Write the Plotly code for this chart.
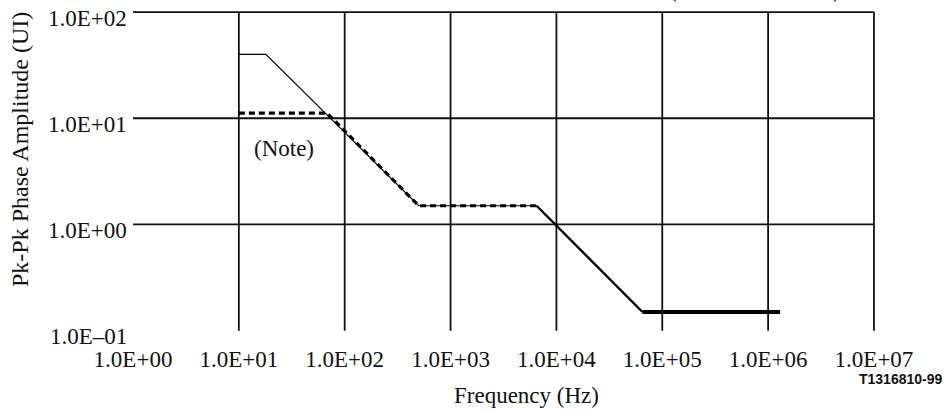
import math
import plotly.graph_objects as go

# ---- data ----
x_decades = [1, 10, 100, 1000, 10000, 100000, 1000000, 10000000]
x_labels = ["1.0E+00", "1.0E+01", "1.0E+02", "1.0E+03", "1.0E+04", "1.0E+05", "1.0E+06", "1.0E+07"]
y_decades = [0.1, 1, 10, 100]
y_labels = ["1.0E–01", "1.0E+00", "1.0E+01", "1.0E+02"]

# thin solid mask (low-frequency part)
thin_freq = [10, 18, 500, 6500]
thin_amp = [40, 40, 1.5, 1.5]
# dashed mask (Note)
note_freq = [10, 68, 500, 6500]
note_amp = [11.2, 11.2, 1.5, 1.5]
# high-frequency part (heavier line)
slope_freq = [6500, 65000]
slope_amp = [1.5, 0.15]
flat_freq = [65000, 1300000]
flat_amp = [0.15, 0.15]

SERIF = "Liberation Serif, Times New Roman, serif"
GRID = "#111111"
TXT = "#111111"

W, H = 946, 411
L, R, T, B = 133, 66, 11, 80   # plot area pixel box
PW, PH = W - L - R, H - T - B

def px(xp):  # paper x from pixel
    return (xp - L) / PW

def py(yp):  # paper y from pixel
    return (H - B - yp) / PH

fig = go.Figure()

# grid lines built from the decade lists (drawn as traces so they follow the log scales)
vx, vy = [], []
for v in x_decades[1:]:
    vx += [v, v, None]
    vy += [y_decades[0], y_decades[-1], None]
hx, hy = [], []
for v in y_decades[1:]:
    hx += [x_decades[0], x_decades[-1], None]
    hy += [v, v, None]
fig.add_trace(go.Scatter(x=vx, y=vy, mode="lines", line=dict(color=GRID, width=1.8),
                         hoverinfo="skip", showlegend=False))
fig.add_trace(go.Scatter(x=hx, y=hy, mode="lines", line=dict(color=GRID, width=1.8),
                         hoverinfo="skip", showlegend=False))

fig.add_trace(go.Scatter(x=thin_freq, y=thin_amp, mode="lines",
                         line=dict(color="black", width=1.2), showlegend=False))
fig.add_trace(go.Scatter(x=note_freq, y=note_amp, mode="lines",
                         line=dict(color="black", width=3.2, dash="6px,4px"), showlegend=False))
fig.add_trace(go.Scatter(x=slope_freq, y=slope_amp, mode="lines",
                         line=dict(color="black", width=2.4), showlegend=False))
fig.add_trace(go.Scatter(x=flat_freq, y=flat_amp, mode="lines",
                         line=dict(color="black", width=3.8), showlegend=False))

annotations = [
    dict(text="Frequency (Hz)", xref="paper", yref="paper", x=px(526), y=py(395),
         xanchor="center", yanchor="middle", showarrow=False,
         font=dict(family=SERIF, size=23, color=TXT)),
    dict(text="Pk-Pk Phase Amplitude (UI)", xref="paper", yref="paper", x=px(20), y=py(150),
         xanchor="center", yanchor="middle", showarrow=False, textangle=-90,
         font=dict(family=SERIF, size=24, color=TXT)),
    dict(text="(Note)", xref="x", yref="y", x=1.43, y=0.72,
         xanchor="center", yanchor="middle", showarrow=False,
         font=dict(family=SERIF, size=23, color=TXT)),
    dict(text="<b>T1316810-99</b>", xref="paper", yref="paper", x=px(945), y=py(379),
         xanchor="right", yanchor="middle", showarrow=False,
         font=dict(family="Liberation Sans, Arial, sans-serif", size=14, color=TXT)),
    dict(text="(", xref="paper", yref="paper", x=px(673), y=py(4),
         xanchor="center", yanchor="bottom", showarrow=False,
         font=dict(family=SERIF, size=23, color=TXT)),
    dict(text=")", xref="paper", yref="paper", x=px(837), y=py(4),
         xanchor="center", yanchor="bottom", showarrow=False,
         font=dict(family=SERIF, size=23, color=TXT)),
]
# y tick labels (placed just below each grid line, as in the reference)
for v, lab in zip(y_decades, y_labels):
    annotations.append(dict(text=lab, xref="paper", yref="y", x=px(129), y=math.log10(v),
                            xanchor="right", yanchor="middle", yshift=-6, showarrow=False,
                            font=dict(family=SERIF, size=23, color=TXT)))

fig.update_layout(
    width=W, height=H,
    margin=dict(l=L, r=R, t=T, b=B, autoexpand=False),
    paper_bgcolor="white", plot_bgcolor="white",
    showlegend=False,
    xaxis=dict(type="log", range=[0, 7.057], showgrid=False, zeroline=False, showline=False,
               automargin=False,
               tickmode="array", tickvals=x_decades, ticktext=x_labels, ticks="",
               ticklabelstandoff=12,
               tickfont=dict(family=SERIF, size=23, color=TXT)),
    yaxis=dict(type="log", range=[-1.003, 2.01], showgrid=False, zeroline=False, showline=False,
               automargin=False, showticklabels=False, ticks=""),
    annotations=annotations,
)

fig.write_html("out.html", config={"displayModeBar": False},
               post_script="document.body.style.margin='0';document.body.style.overflow='hidden';")
